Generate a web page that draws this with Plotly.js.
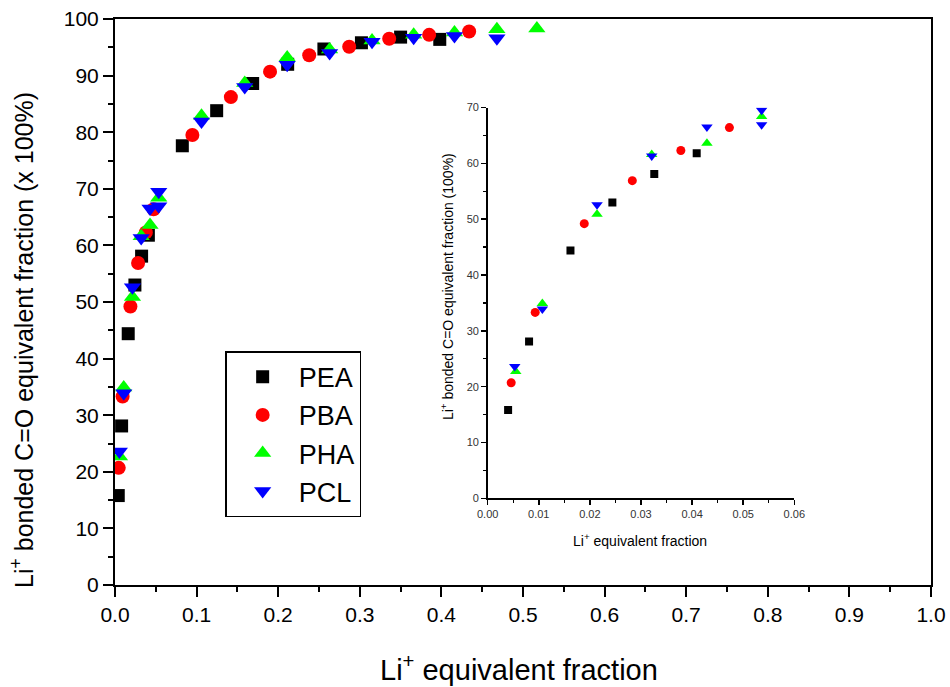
<!DOCTYPE html>
<html>
<head>
<meta charset="utf-8">
<script src="https://cdn.plot.ly/plotly-3.0.1.min.js"></script>
<style>html,body{margin:0;padding:0;background:#fff;}#chart{width:950px;height:687px;}</style>
</head>
<body>
<div id="chart"></div>
<script>
// Series data (Li+ equivalent fraction, Li+ bonded C=O equivalent fraction in %)
const seriesNames = ["PEA", "PBA", "PHA", "PCL"];
const peaX = [0.0040, 0.0081, 0.0162, 0.0244, 0.0326, 0.0409, 0.0825, 0.1246, 0.1687, 0.2116, 0.256, 0.302, 0.350, 0.398];
const peaY = [15.8, 28.1, 44.4, 53.0, 58.1, 61.8, 77.6, 83.8, 88.6, 92.0, 94.7, 95.8, 96.8, 96.4];
const pbaX = [0.0046, 0.0093, 0.0189, 0.0283, 0.0378, 0.0473, 0.0948, 0.142, 0.190, 0.238, 0.287, 0.336, 0.385, 0.434];
const pbaY = [20.7, 33.3, 49.2, 56.9, 62.3, 66.4, 79.5, 86.2, 90.7, 93.6, 95.1, 96.5, 97.2, 97.8];
const phaX = [0.0055, 0.0107, 0.0214, 0.0321, 0.0429, 0.0536, 0.106, 0.159, 0.211, 0.263, 0.315, 0.366, 0.416, 0.468, 0.517];
const phaY = [22.7, 34.9, 50.9, 61.6, 63.6, 68.4, 82.9, 88.7, 93.2, 94.6, 96.2, 97.2, 97.6, 98.2, 98.3];
const pclX = [0.0053, 0.0107, 0.0214, 0.0321, 0.0429, 0.0536, 0.0536, 0.106, 0.159, 0.211, 0.263, 0.315, 0.366, 0.416, 0.468];
const pclY = [23.6, 33.9, 52.6, 61.3, 66.5, 69.5, 66.9, 81.9, 88.0, 91.9, 94.0, 96.0, 96.7, 97.0, 96.6];

const xs = [peaX, pbaX, phaX, pclX];
const ys = [peaY, pbaY, phaY, pclY];
const colors = ["#000000", "#ff0000", "#00ff00", "#0000ff"];
const symbols = ["square", "circle", "triangle-up", "triangle-down"];
const mainSizes = [13, 14, 15, 15];
const insetSizes = [8, 9, 10, 10];

const traces = [];
for (let i = 0; i < 4; i++) {
  traces.push({
    type: "scatter", mode: "markers", name: seriesNames[i],
    x: xs[i], y: ys[i], xaxis: "x", yaxis: "y",
    marker: {symbol: symbols[i], color: colors[i], size: mainSizes[i], line: {width: 0}},
    showlegend: true, hoverinfo: "skip"
  });
}
for (let i = 0; i < 4; i++) {
  traces.push({
    type: "scatter", mode: "markers", name: seriesNames[i],
    x: xs[i], y: ys[i], xaxis: "x2", yaxis: "y2",
    marker: {symbol: symbols[i], color: colors[i], size: insetSizes[i], line: {width: 0}},
    showlegend: false, hoverinfo: "skip"
  });
}

const fontFam = "Arial, 'Liberation Sans', sans-serif";
const layout = {
  width: 950, height: 687,
  margin: {l: 115, r: 19, t: 19, b: 102, pad: 0},
  paper_bgcolor: "#ffffff", plot_bgcolor: "rgba(0,0,0,0)",
  font: {family: fontFam, color: "#000"},
  showlegend: true,
  legend: {
    x: 0.135, y: 0.413, xanchor: "left", yanchor: "top",
    bgcolor: "#ffffff", bordercolor: "#000", borderwidth: 1.5,
    font: {size: 27, family: fontFam, color: "#000"},
    itemwidth: 62, tracegroupgap: 0
  },
  xaxis: {
    domain: [0, 1], range: [0, 1], dtick: 0.1, tick0: 0, tickformat: ".1f",
    showline: true, linecolor: "#000", linewidth: 2, mirror: true,
    ticks: "outside", ticklen: 10, tickwidth: 2, tickcolor: "#000",
    minor: {dtick: 0.05, ticks: "outside", ticklen: 5, tickwidth: 2, tickcolor: "#000"},
    showgrid: false, zeroline: false,
    tickfont: {size: 21, family: fontFam, color: "#000"}
  },
  yaxis: {
    domain: [0, 1], range: [0, 100], dtick: 10, tick0: 0,
    showline: true, linecolor: "#000", linewidth: 2, mirror: true,
    ticks: "outside", ticklen: 10, tickwidth: 2, tickcolor: "#000",
    minor: {dtick: 5, ticks: "outside", ticklen: 5, tickwidth: 2, tickcolor: "#000"},
    showgrid: false, zeroline: false,
    tickfont: {size: 21, family: fontFam, color: "#000"}
  },
  xaxis2: {
    anchor: "y2", domain: [0.4567, 0.8325], range: [0, 0.06], dtick: 0.01, tick0: 0, tickformat: ".2f",
    showline: true, linecolor: "#000", linewidth: 1.5, mirror: false,
    ticks: "outside", ticklen: 5, tickwidth: 1.5, tickcolor: "#000",
    minor: {dtick: 0.005, ticks: "outside", ticklen: 3, tickwidth: 1.2, tickcolor: "#000"},
    showgrid: false, zeroline: false,
    tickfont: {size: 11, family: fontFam, color: "#333"}
  },
  yaxis2: {
    anchor: "x2", domain: [0.1532, 0.8436], range: [0, 70], dtick: 10, tick0: 0,
    showline: true, linecolor: "#000", linewidth: 1.5, mirror: false,
    ticks: "outside", ticklen: 5, tickwidth: 1.5, tickcolor: "#000",
    minor: {dtick: 5, ticks: "outside", ticklen: 3, tickwidth: 1.2, tickcolor: "#000"},
    showgrid: false, zeroline: false,
    tickfont: {size: 11, family: fontFam, color: "#333"}
  },
  annotations: [
    {text: "Li<sup>+</sup> bonded C=O equivalent fraction (x 100%)", xref: "paper", yref: "paper",
     x: -0.114, y: 0.433, xanchor: "center", yanchor: "middle", textangle: -90, showarrow: false,
     font: {size: 25, family: fontFam, color: "#000"}},
    {text: "Li<sup>+</sup> equivalent fraction", xref: "paper", yref: "paper",
     x: 0.495, y: -0.147, xanchor: "center", yanchor: "middle", showarrow: false,
     font: {size: 29, family: fontFam, color: "#000"}},
    {text: "Li<sup>+</sup> bonded C=O equivalent fraction (100%)", xref: "paper", yref: "paper",
     x: 0.407, y: 0.5265, xanchor: "center", yanchor: "middle", textangle: -90, showarrow: false,
     font: {size: 14, family: fontFam, color: "#000"}},
    {text: "Li<sup>+</sup> equivalent fraction", xref: "paper", yref: "paper",
     x: 0.643, y: 0.0795, xanchor: "center", yanchor: "middle", showarrow: false,
     font: {size: 14, family: fontFam, color: "#000"}}
  ]
};

Plotly.newPlot("chart", traces, layout, {displayModeBar: false, staticPlot: true});
</script>
</body>
</html>
